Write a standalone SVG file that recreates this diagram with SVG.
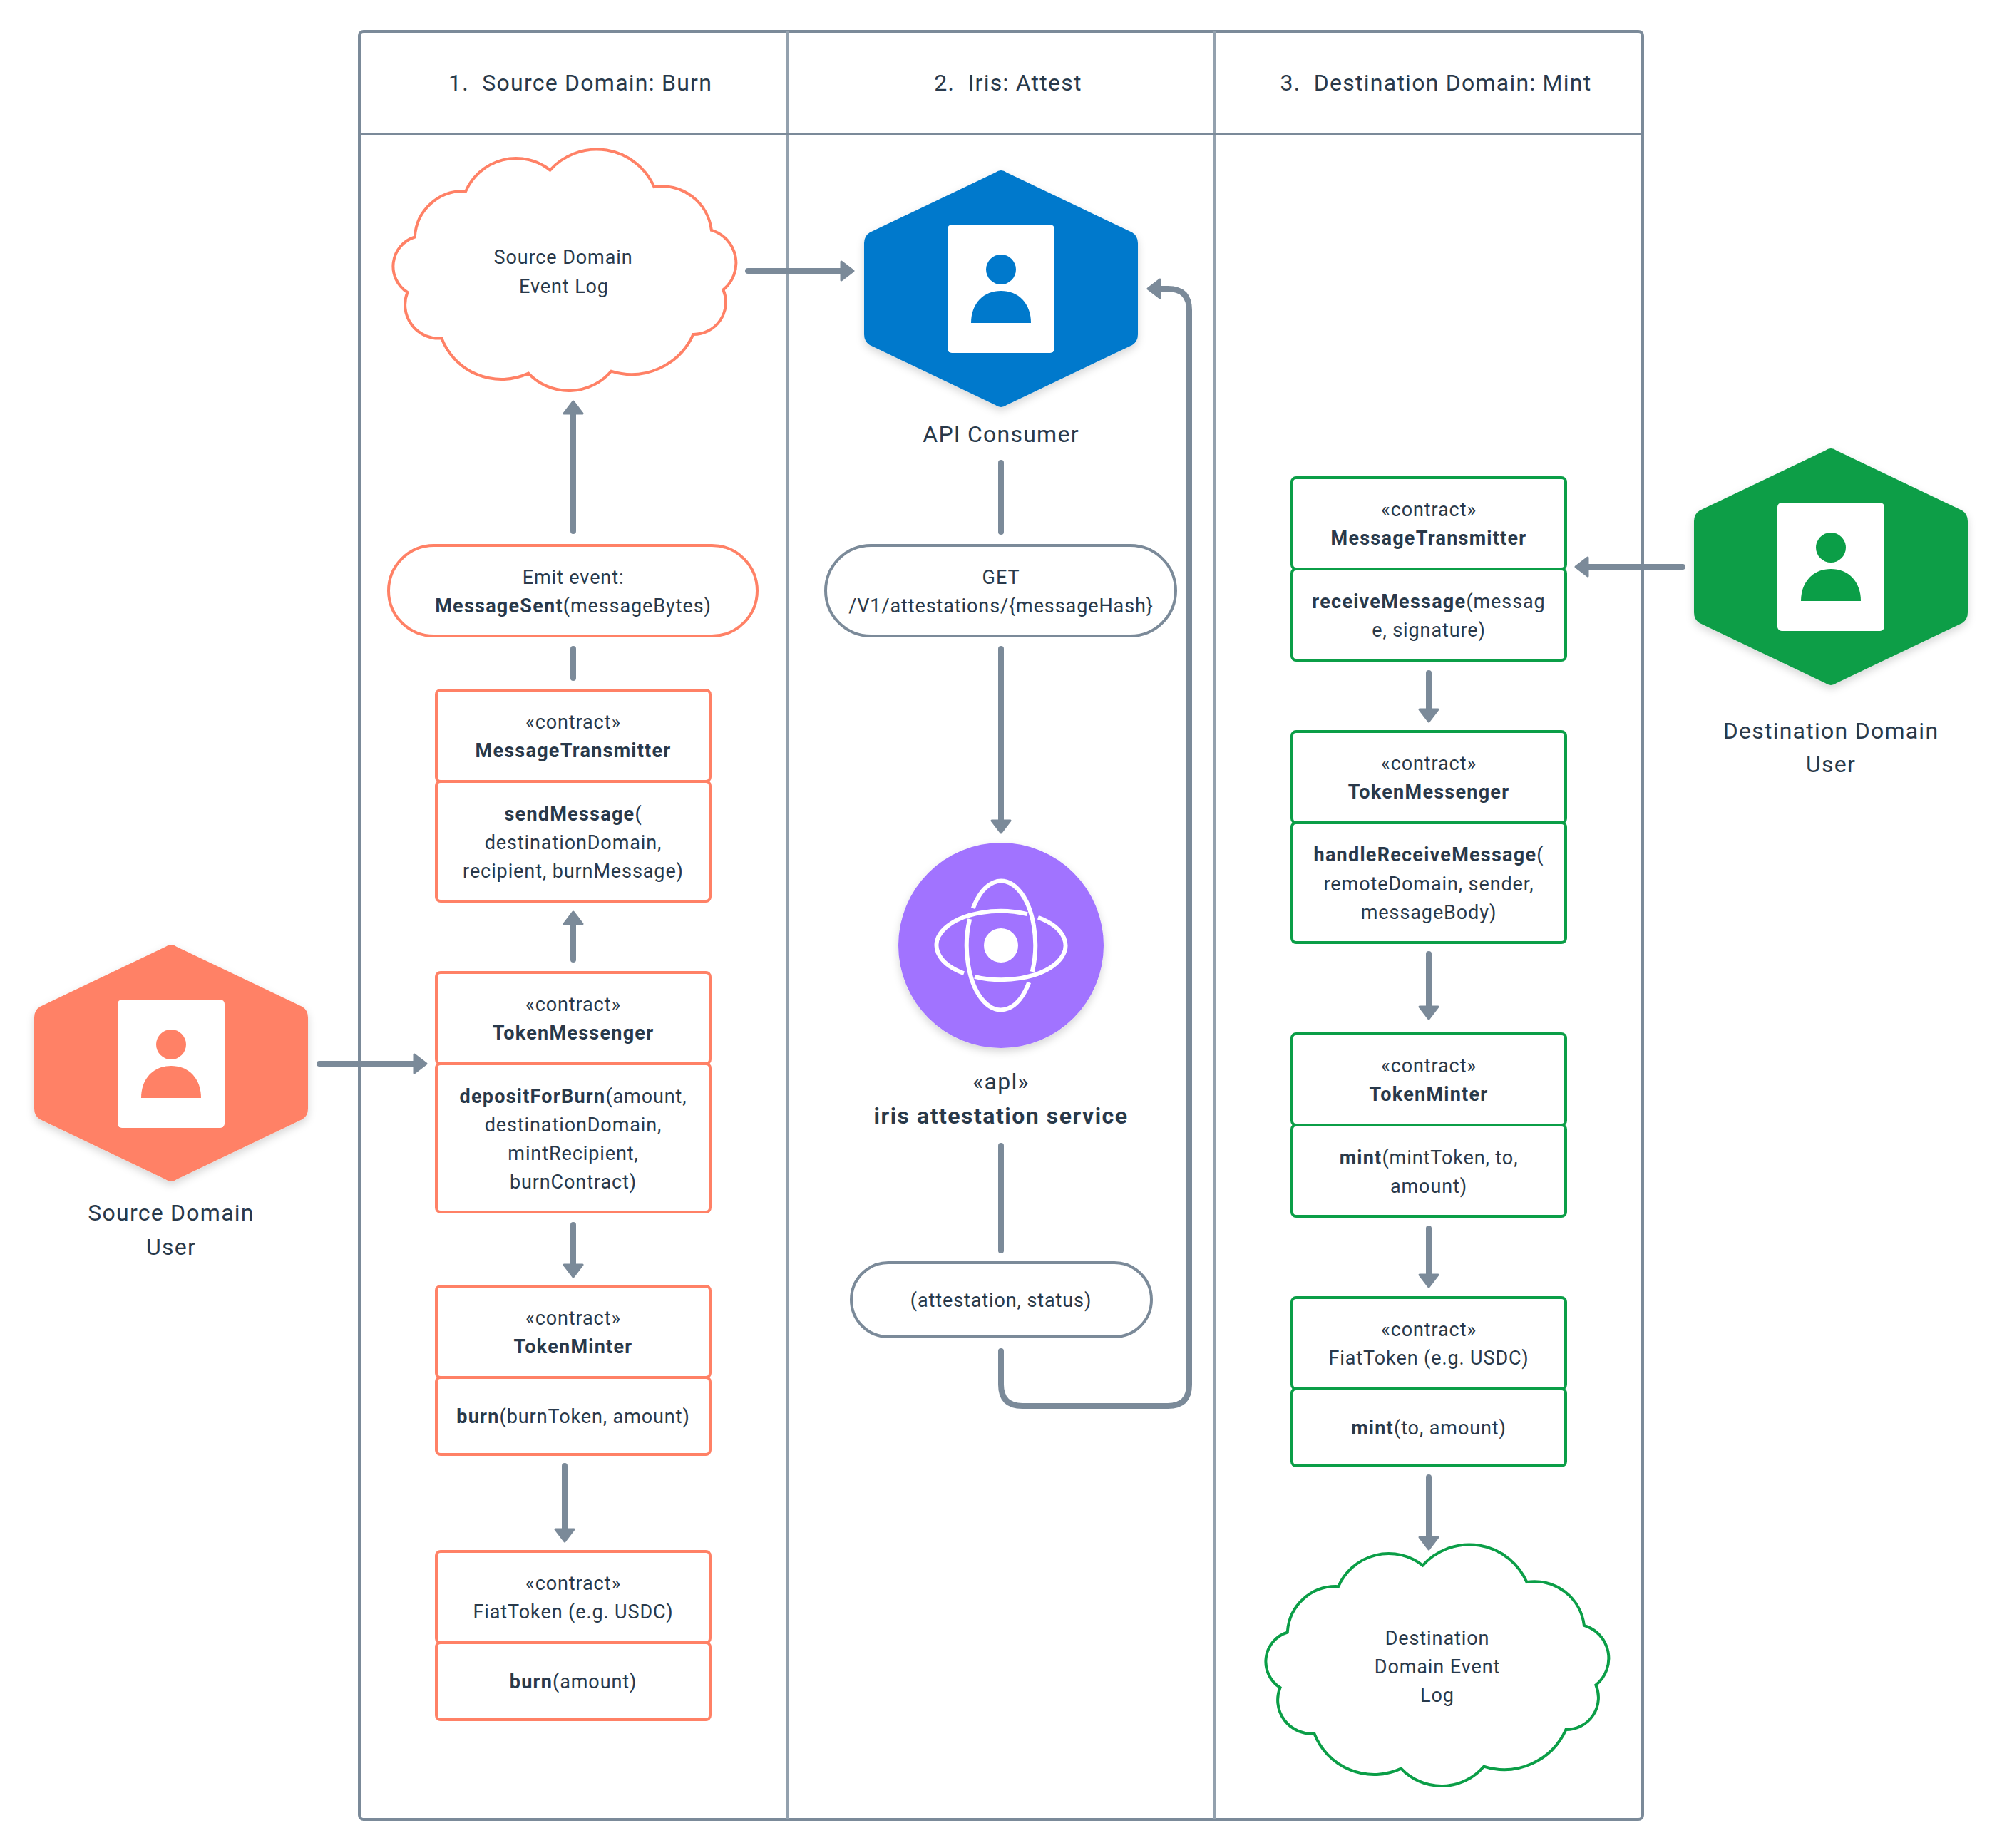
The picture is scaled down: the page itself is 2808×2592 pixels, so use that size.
<svg xmlns="http://www.w3.org/2000/svg" width="2808" height="2592" viewBox="0 0 2808 2592">
<style>
text{font-family:"Roboto","Liberation Sans",sans-serif;fill:#29394a;text-anchor:middle;white-space:pre}
.t{font-size:27px;letter-spacing:.9px}
.l{font-size:32px;letter-spacing:1.25px}
.b{font-weight:700;letter-spacing:1.25px}
.l.b{letter-spacing:1.5px}
.lane{fill:none;stroke:#7b8a99;stroke-width:4}
.div{fill:none;stroke:#93a1ae;stroke-width:4}
.o{fill:#fff;stroke:#ff8166;stroke-width:4}
.g{fill:#fff;stroke:#0b9e47;stroke-width:4}
.p{fill:#fff;stroke:#7b8a99;stroke-width:4}
.c{fill:none;stroke:#7b8a99;stroke-width:8;stroke-linecap:round;stroke-linejoin:round}
.ah{fill:#7b8a99;stroke:#7b8a99;stroke-width:3;stroke-linejoin:round}
.card{fill:#fff}
.atom{fill:none;stroke:#fff;stroke-width:6}
</style>
<defs>
<filter id="sh" x="-20%" y="-20%" width="140%" height="140%"><feDropShadow dx="0" dy="5" stdDeviation="6" flood-color="#000" flood-opacity=".16"/></filter>
<path id="hex" d="M-8 -163 Q0 -169 8 -163 L184 -79 Q192 -74 192 -64 V64 Q192 74 184 79 L8 163 Q0 169 -8 163 L-184 79 Q-192 74 -192 64 V-64 Q-192 -74 -184 -79Z"/>
<path id="cloud" d="M653.2 268.2 A77 77 0 0 1 771.5 238.6 A88 88 0 0 1 917.5 262.1 A70 70 0 0 1 997.9 322.9 A48 48 0 0 1 1014.4 406.4 A45 45 0 0 1 972.4 468.9 A95 95 0 0 1 857.2 520.7 A78 78 0 0 1 741.2 523.6 A90 90 0 0 1 619.3 474.3 A47 47 0 0 1 571.5 410 A43 43 0 0 1 581.8 332.5 A68 68 0 0 1 653.2 268.2Z"/>
<g id="person">
<rect class="card" x="-75" y="-90" width="150" height="180" rx="6"/>
<circle cx="0" cy="-27" r="21" fill="inherit"/>
<path d="M-42 48 C-42 20 -24 3 0 3 C24 3 42 20 42 48Z" fill="inherit"/>
</g>
</defs>
<g id="swimlanes">
<rect class="lane" x="504" y="44" width="1800" height="2508" rx="6" fill="#fff"/>
<path class="div" d="M1104 44V2552M1704 44V2552"/>
<path class="lane" d="M504 188H2304"/>
<text class="l" x="814" y="127">1.  Source Domain: Burn</text>
<text class="l" x="1414" y="127">2.  Iris: Attest</text>
<text class="l" x="2014" y="127">3.  Destination Domain: Mint</text>
</g>
<g id="connectors">
<path class="c" d="M1049 380H1185"/><path class="ah" d="M1180 367L1197 380L1180 393Z"/>
<path class="c" d="M804 745V575"/><path class="ah" d="M791 580L804 563L817 580Z"/>
<path class="c" d="M804 910V951"/>
<path class="c" d="M804 1346V1290"/><path class="ah" d="M791 1296L804 1279L817 1296Z"/>
<path class="c" d="M448 1492H585"/><path class="ah" d="M581 1479L598 1492L581 1505Z"/>
<path class="c" d="M804 1718V1778"/><path class="ah" d="M791 1774L804 1791L817 1774Z"/>
<path class="c" d="M792 2056V2150"/><path class="ah" d="M779 2145L792 2162L805 2145Z"/>
<path class="c" d="M1404 649V746"/>
<path class="c" d="M1404 910V1155"/><path class="ah" d="M1391 1151L1404 1168L1417 1151Z"/>
<path class="c" d="M1404 1607V1754"/>
<path class="c" d="M1404 1895V1942Q1404 1972 1434 1972H1638Q1668 1972 1668 1942V435Q1668 405 1638 405H1622"/><path class="ah" d="M1627 392L1610 405L1627 418Z"/>
<path class="c" d="M2360 795H2222"/><path class="ah" d="M2227 782L2210 795L2227 808Z"/>
<path class="c" d="M2004 944V1000"/><path class="ah" d="M1991 995L2004 1012L2017 995Z"/>
<path class="c" d="M2004 1338V1417"/><path class="ah" d="M1991 1412L2004 1429L2017 1412Z"/>
<path class="c" d="M2004 1723V1793"/><path class="ah" d="M1991 1788L2004 1805L2017 1788Z"/>
<path class="c" d="M2004 2072V2160"/><path class="ah" d="M1991 2156L2004 2173L2017 2156Z"/>
</g>
<g id="source-domain-user">
<use href="#hex" x="240" y="1491" fill="#ff8166" filter="url(#sh)"/>
<use href="#person" x="240" y="1492" fill="#ff8166"/>
<text class="l" x="240" y="1712">Source Domain</text>
<text class="l" x="240" y="1760">User</text>
</g>
<g id="api-consumer">
<use href="#hex" x="1404" y="405" fill="#0079cc" filter="url(#sh)"/>
<use href="#person" x="1404" y="405" fill="#0079cc"/>
<text class="l" x="1404" y="620">API Consumer</text>
</g>
<g id="destination-domain-user">
<use href="#hex" x="2568" y="795" fill="#0b9e47" filter="url(#sh)"/>
<use href="#person" x="2568" y="795" fill="#0b9e47"/>
<text class="l" x="2568" y="1036">Destination Domain</text>
<text class="l" x="2568" y="1083">User</text>
</g>
<g id="source-event-log">
<use href="#cloud" class="o"/>
<text class="t" x="790" y="370">Source Domain</text>
<text class="t" x="791" y="411">Event Log</text>
</g>
<g id="emit-event">
<rect class="o" x="545" y="765" width="517" height="127" rx="63.5"/>
<text class="t" x="804" y="819">Emit event:</text>
<text class="t" x="804" y="859"><tspan class="b">MessageSent</tspan>(messageBytes)</text>
</g>
<g id="src-message-transmitter">
<rect class="o" x="612" y="968" width="384" height="128" rx="6"/>
<rect class="o" x="612" y="1096" width="384" height="168" rx="6"/>
<text class="t" x="804" y="1022">«contract»</text>
<text class="t b" x="804" y="1062">MessageTransmitter</text>
<text class="t" x="804" y="1151"><tspan class="b">sendMessage</tspan>(</text>
<text class="t" x="804" y="1191">destinationDomain,</text>
<text class="t" x="804" y="1231">recipient, burnMessage)</text>
</g>
<g id="src-token-messenger">
<rect class="o" x="612" y="1364" width="384" height="128" rx="6"/>
<rect class="o" x="612" y="1492" width="384" height="208" rx="6"/>
<text class="t" x="804" y="1418">«contract»</text>
<text class="t b" x="804" y="1458">TokenMessenger</text>
<text class="t" x="804" y="1547"><tspan class="b">depositForBurn</tspan>(amount,</text>
<text class="t" x="804" y="1587">destinationDomain,</text>
<text class="t" x="804" y="1627">mintRecipient,</text>
<text class="t" x="804" y="1667">burnContract)</text>
</g>
<g id="src-token-minter">
<rect class="o" x="612" y="1804" width="384" height="128" rx="6"/>
<rect class="o" x="612" y="1932" width="384" height="108" rx="6"/>
<text class="t" x="804" y="1858">«contract»</text>
<text class="t b" x="804" y="1898">TokenMinter</text>
<text class="t" x="804" y="1996"><tspan class="b">burn</tspan>(burnToken, amount)</text>
</g>
<g id="src-fiat-token">
<rect class="o" x="612" y="2176" width="384" height="128" rx="6"/>
<rect class="o" x="612" y="2304" width="384" height="108" rx="6"/>
<text class="t" x="804" y="2230">«contract»</text>
<text class="t" x="804" y="2270">FiatToken (e.g. USDC)</text>
<text class="t" x="804" y="2368"><tspan class="b">burn</tspan>(amount)</text>
</g>
<g id="get-attestation">
<rect class="p" x="1158" y="765" width="491" height="127" rx="63.5"/>
<text class="t" x="1404" y="819">GET</text>
<text class="t" x="1404" y="859">/V1/attestations/{messageHash}</text>
</g>
<g id="iris-attestation-service">
<circle cx="1404" cy="1326" r="144" fill="#a173ff" filter="url(#sh)"/>
<g transform="translate(1404 1326)">
<circle r="24" fill="#fff"/>
<path class="atom" d="M52 -39.2A90 48 0 0 1 -37 43.8M-52 39.2A90 48 0 0 1 37 -43.8M-39.2 -52A48 90 0 0 1 43.8 37M39.2 52A48 90 0 0 1 -43.8 -37"/>
</g>
<text class="l" x="1404" y="1528">«apl»</text>
<text class="l b" x="1404" y="1576">iris attestation service</text>
</g>
<g id="attestation-status">
<rect class="p" x="1194" y="1771" width="421" height="104" rx="52"/>
<text class="t" x="1404" y="1833">(attestation, status)</text>
</g>
<g id="dst-message-transmitter">
<rect class="g" x="1812" y="670" width="384" height="128" rx="6"/>
<rect class="g" x="1812" y="798" width="384" height="128" rx="6"/>
<text class="t" x="2004" y="724">«contract»</text>
<text class="t b" x="2004" y="764">MessageTransmitter</text>
<text class="t" x="2004" y="853"><tspan class="b">receiveMessage</tspan>(messag</text>
<text class="t" x="2004" y="893">e, signature)</text>
</g>
<g id="dst-token-messenger">
<rect class="g" x="1812" y="1026" width="384" height="128" rx="6"/>
<rect class="g" x="1812" y="1154" width="384" height="168" rx="6"/>
<text class="t" x="2004" y="1080">«contract»</text>
<text class="t b" x="2004" y="1120">TokenMessenger</text>
<text class="t" x="2004" y="1208"><tspan class="b">handleReceiveMessage</tspan>(</text>
<text class="t" x="2004" y="1249">remoteDomain, sender,</text>
<text class="t" x="2004" y="1289">messageBody)</text>
</g>
<g id="dst-token-minter">
<rect class="g" x="1812" y="1450" width="384" height="128" rx="6"/>
<rect class="g" x="1812" y="1578" width="384" height="128" rx="6"/>
<text class="t" x="2004" y="1504">«contract»</text>
<text class="t b" x="2004" y="1544">TokenMinter</text>
<text class="t" x="2004" y="1633"><tspan class="b">mint</tspan>(mintToken, to,</text>
<text class="t" x="2004" y="1673">amount)</text>
</g>
<g id="dst-fiat-token">
<rect class="g" x="1812" y="1820" width="384" height="128" rx="6"/>
<rect class="g" x="1812" y="1948" width="384" height="108" rx="6"/>
<text class="t" x="2004" y="1874">«contract»</text>
<text class="t" x="2004" y="1914">FiatToken (e.g. USDC)</text>
<text class="t" x="2004" y="2012"><tspan class="b">mint</tspan>(to, amount)</text>
</g>
<g id="destination-event-log">
<use href="#cloud" class="g" transform="translate(1224 1957)"/>
<text class="t" x="2016" y="2307">Destination</text>
<text class="t" x="2016" y="2347">Domain Event</text>
<text class="t" x="2016" y="2387">Log</text>
</g>
</svg>
